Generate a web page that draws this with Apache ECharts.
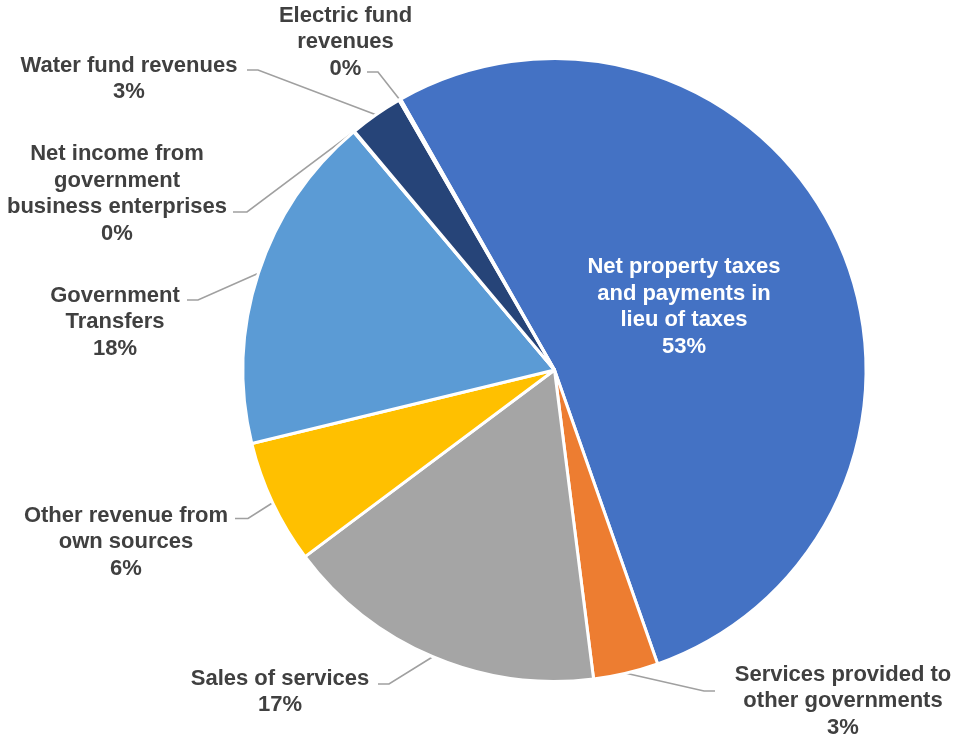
<!DOCTYPE html>
<html>
<head>
<meta charset="utf-8">
<title>Revenue sources</title>
<script src="https://cdn.jsdelivr.net/npm/echarts@6/dist/echarts.min.js"></script>
<style>
  html, body { margin: 0; padding: 0; background: #fff; }
  #chart { width: 955px; height: 736px; }
</style>
</head>
<body>
<div id="chart"></div>
<script>
// slice names (line breaks as in the original labels)
const categories = [
  'Net property taxes\nand payments in\nlieu of taxes',
  'Services provided to\nother governments',
  'Sales of services',
  'Other revenue from\nown sources',
  'Government\nTransfers',
  'Net income from\ngovernment\nbusiness enterprises',
  'Water fund revenues',
  'Electric fund\nrevenues'
];
// share of total revenue, %
const shares = [52.85, 3.37, 16.78, 6.43, 17.64, 0.05, 2.78, 0.1];
const colors = ['#4472C4', '#ED7D31', '#A5A5A5', '#FFC000', '#5B9BD5', '#70AD47', '#264478', '#9E480E'];

// where each label sits: text centre, and the end of its leader line (end x, y, elbow x)
const labelSpots = [
  { x: 684, y: 307 },
  { x: 843, y: 701, line: [715, 691, 704] },
  { x: 280, y: 692, line: [378, 684, 389] },
  { x: 126, y: 542, line: [235, 518.5, 248] },
  { x: 115, y: 322, line: [187, 300, 198] },
  { x: 117, y: 194, line: [233, 212, 247] },
  { x: 129, y: 79, line: [247, 70, 258] },
  { x: 345.5, y: 42, line: [367, 72, 378] }
];

const pieData = categories.map((name, i) => {
  const item = { name: name, value: shares[i], itemStyle: { color: colors[i] } };
  if (i === 0) {
    item.label = { position: 'inside', color: '#fff' };
    item.labelLine = { show: false };
  }
  return item;
});

const option = {
  animation: false,
  backgroundColor: '#fff',
  series: [
    {
      type: 'pie',
      center: [554.5, 370],
      radius: 311.5,
      startAngle: 119.6,
      clockwise: true,
      avoidLabelOverlap: false,
      itemStyle: { borderColor: '#fff', borderWidth: 3 },
      label: {
        show: true,
        position: 'outside',
        formatter: p => p.name + '\n' + Math.round(p.percent) + '%',
        color: '#404040',
        fontFamily: '"Liberation Sans", Arial, sans-serif',
        fontWeight: 'bold',
        fontSize: 22,
        lineHeight: 26.5
      },
      labelLine: {
        show: true,
        length: 10,
        length2: 10,
        lineStyle: { color: '#A0A0A0', width: 1.6 }
      },
      labelLayout: function (params) {
        const spot = labelSpots[params.dataIndex];
        const out = { x: spot.x, y: spot.y, align: 'center', verticalAlign: 'middle' };
        if (spot.line && params.labelLinePoints) {
          const edge = params.labelLinePoints[0];
          out.labelLinePoints = [
            [edge[0], edge[1]],
            [spot.line[2], spot.line[1]],
            [spot.line[0], spot.line[1]]
          ];
        }
        return out;
      },
      data: pieData
    }
  ]
};

let chartDom = document.getElementById('chart');
let myChart = echarts.init(chartDom);
myChart.setOption(option);
</script>
</body>
</html>
